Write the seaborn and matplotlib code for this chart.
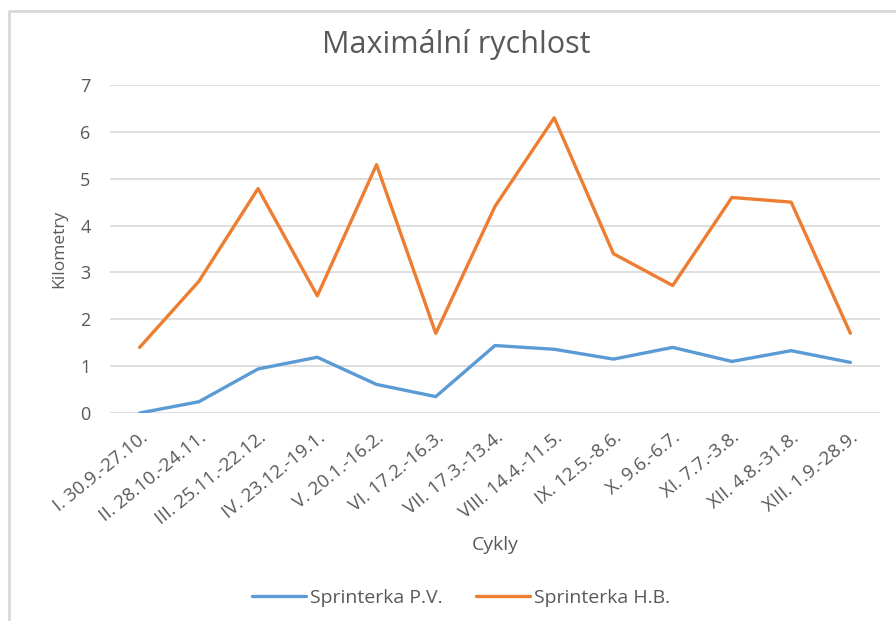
import matplotlib
matplotlib.use("Agg")
import matplotlib.pyplot as plt
import seaborn as sns
import pandas as pd
from matplotlib.patches import Rectangle

cycles = ["I. 30.9.-27.10.", "II. 28.10.-24.11.", "III. 25.11.-22.12.", "IV. 23.12.-19.1.",
          "V. 20.1.-16.2.", "VI. 17.2.-16.3.", "VII. 17.3.-13.4.", "VIII. 14.4.-11.5.",
          "IX. 12.5.-8.6.", "X. 9.6.-6.7.", "XI. 7.7.-3.8.", "XII. 4.8.-31.8.", "XIII. 1.9.-28.9."]
pv = [0.0, 0.24, 0.94, 1.19, 0.61, 0.35, 1.44, 1.36, 1.15, 1.40, 1.10, 1.33, 1.08]
hb = [1.40, 2.81, 4.79, 2.50, 5.30, 1.70, 4.41, 6.30, 3.40, 2.72, 4.60, 4.50, 1.70]
series_names = ["Sprinterka P.V.", "Sprinterka H.B."]
y_ticks = [0, 1, 2, 3, 4, 5, 6, 7]

df = pd.DataFrame({
    "Cykly": cycles * 2,
    "Kilometry": pv + hb,
    "Series": [series_names[0]] * len(cycles) + [series_names[1]] * len(cycles),
})

sns.set_theme(style="white")
plt.rcParams["font.family"] = ["Open Sans", "DejaVu Sans"]
text_color = "#595959"
grid_color = "#D9D9D9"

fig = plt.figure(figsize=(8.96, 6.21), dpi=100)
fig.patch.set_facecolor("white")
ax = fig.add_axes([110 / 896, 1 - 413 / 621, 770 / 896, 328 / 621])

sns.lineplot(data=df, x="Cykly", y="Kilometry", hue="Series", sort=False,
             palette=["#5B9BD5", "#ED7D31"], linewidth=2.4, ax=ax)

ax.set_xlim(-0.5, len(cycles) - 0.5)
ax.set_ylim(0, 7)
ax.set_yticks(y_ticks)
ax.set_yticklabels([str(t) for t in y_ticks])
ax.yaxis.grid(True, color=grid_color, linewidth=1.2)
ax.set_axisbelow(True)
for s in ax.spines.values():
    s.set_visible(False)
ax.tick_params(axis="both", length=0, colors=text_color)
ax.tick_params(axis="y", pad=14, labelsize=13)
ax.tick_params(axis="x", pad=11, labelsize=13.5)
ax.set_xticks(range(len(cycles)))
ax.set_xticklabels(cycles, rotation=39, ha="right", va="top", rotation_mode="anchor")
for lbl in ax.get_xticklabels():
    lbl.set_color(text_color)

ax.set_ylabel("Kilometry", fontsize=12.5, color=text_color)
ax.yaxis.set_label_coords((67 - 110) / 770, 0.5)
ax.set_xlabel("Cykly", fontsize=14, color=text_color)
ax.xaxis.set_label_coords(0.5, -(536 - 413) / 328)

fig.text(456 / 896, 1 - 45 / 621, "Maximální rychlost", ha="center", va="center",
         fontsize=22, color=text_color)

handles, labels = ax.get_legend_handles_labels()
ax.get_legend().remove()
fig.legend(handles, labels, loc="center", bbox_to_anchor=(461 / 896, 1 - 598 / 621),
           ncol=2, frameon=False, fontsize=14, labelcolor=text_color,
           handlelength=2.8, handletextpad=0.2, columnspacing=1.7)

fig.patches.append(Rectangle((9 / 896, -0.1), 1.2, 1 - 11 / 621 + 0.1,
                             transform=fig.transFigure, fill=False,
                             edgecolor=grid_color, linewidth=2, zorder=0))

fig.savefig("out.png", dpi=100, facecolor="white")
